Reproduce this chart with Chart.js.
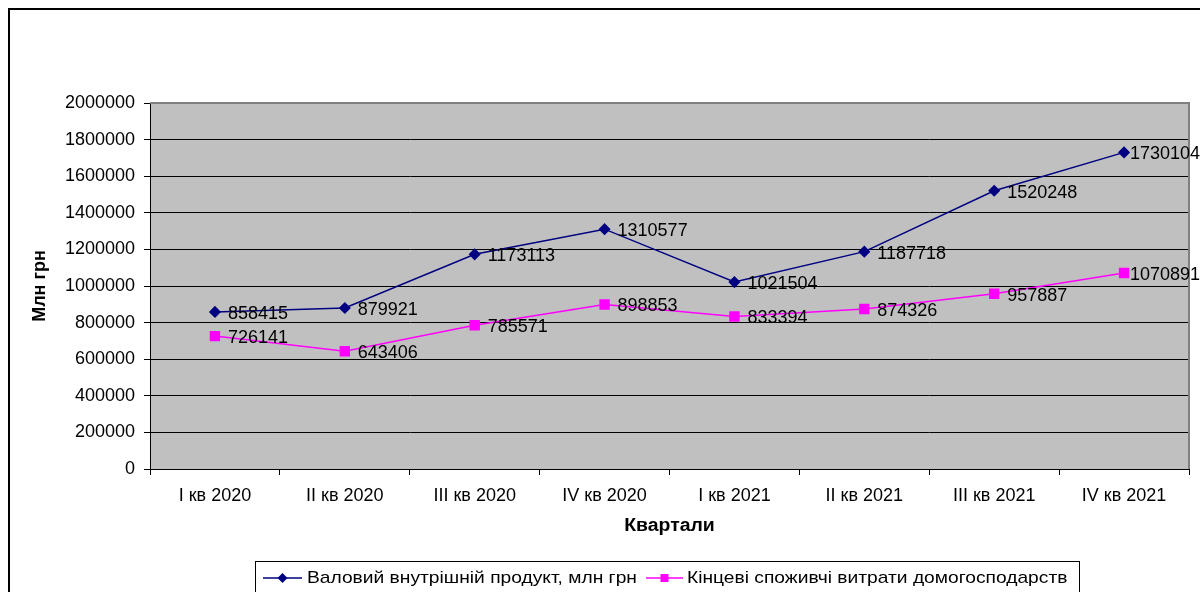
<!DOCTYPE html>
<html>
<head>
<meta charset="utf-8">
<script src="https://cdn.jsdelivr.net/npm/chart.js@4.4.0/dist/chart.umd.min.js"></script>
<style>
  html, body { margin: 0; padding: 0; background: #fff; }
  #wrap { width: 1200px; height: 592px; position: relative; }
</style>
</head>
<body>
<div id="wrap"><canvas id="chart" width="1200" height="592"></canvas></div>
<script>
// quarters and values, mln UAH
const quarters = ['I кв 2020', 'II кв 2020', 'III кв 2020', 'IV кв 2020', 'I кв 2021', 'II кв 2021', 'III кв 2021', 'IV кв 2021'];
const gdpValues = [858415, 879921, 1173113, 1310577, 1021504, 1187718, 1520248, 1730104];
const consumptionValues = [726141, 643406, 785571, 898853, 833394, 874326, 957887, 1070891];
const seriesNames = ['Валовий внутрішній продукт, млн грн', 'Кінцеві споживчі витрати домогосподарств'];
const yMax = 2000000;
const yStep = 200000;

const FONT = "'Liberation Sans', Arial, sans-serif";

// gray plot background + outer frame
const backgroundPlugin = {
  id: 'background',
  beforeDraw(chart) {
    const { ctx, chartArea } = chart;
    ctx.save();
    ctx.fillStyle = '#fff';
    ctx.fillRect(0, 0, chart.width, chart.height);
    ctx.fillStyle = '#c0c0c0';
    ctx.fillRect(chartArea.left, chartArea.top, chartArea.right - chartArea.left, chartArea.bottom - chartArea.top);
    ctx.strokeStyle = '#000';
    ctx.lineWidth = 2;
    ctx.strokeRect(9, 9, chart.width + 20, chart.height + 20);
    ctx.restore();
  },
  beforeDatasetsDraw(chart) {
    const { ctx, chartArea } = chart;
    ctx.save();
    ctx.strokeStyle = '#808080';
    ctx.lineWidth = 2;
    ctx.beginPath();
    ctx.moveTo(chartArea.left, chartArea.top);
    ctx.lineTo(chartArea.right, chartArea.top);
    ctx.lineTo(chartArea.right, chartArea.bottom);
    ctx.stroke();
    ctx.restore();
  }
};

// value labels to the right of each point, kept inside the canvas
const valueLabelsPlugin = {
  id: 'valueLabels',
  afterDatasetsDraw(chart) {
    const { ctx } = chart;
    ctx.save();
    ctx.font = '18px ' + FONT;
    ctx.fillStyle = '#000';
    ctx.textBaseline = 'middle';
    ctx.textAlign = 'left';
    chart.data.datasets.forEach((ds, i) => {
      const meta = chart.getDatasetMeta(i);
      meta.data.forEach((pt, j) => {
        const txt = String(ds.data[j]);
        const w = ctx.measureText(txt).width;
        const x = Math.min(pt.x + 13, chart.width - w);
        ctx.fillText(txt, x, pt.y + 2);
      });
    });
    ctx.restore();
  }
};

// axis titles and bottom legend
const titlesPlugin = {
  id: 'titles',
  afterDraw(chart) {
    const { ctx, chartArea } = chart;
    ctx.save();
    ctx.fillStyle = '#000';
    ctx.font = 'bold 18px ' + FONT;
    ctx.textAlign = 'center';
    ctx.textBaseline = 'middle';
    ctx.save();
    ctx.translate((chartArea.left + chartArea.right) / 2, 526);
    ctx.scale(1.08, 1);
    ctx.fillText('Квартали', 0, 0);
    ctx.restore();
    ctx.translate(40, (chartArea.top + chartArea.bottom) / 2);
    ctx.rotate(-Math.PI / 2);
    ctx.fillText('Млн грн', 0, 0);
    ctx.restore();

    // legend
    ctx.save();
    ctx.strokeStyle = '#000';
    ctx.lineWidth = 1;
    ctx.strokeRect(255.5, 561.5, 824, 40);
    ctx.font = '17px ' + FONT;
    ctx.textBaseline = 'middle';
    const ly = 578;
    const items = [
      { x0: 263, x1: 302, tx: 307 },
      { x0: 646, x1: 683, tx: 687 }
    ];
    chart.data.datasets.forEach((ds, i) => {
      const it = items[i];
      ctx.strokeStyle = ds.borderColor;
      ctx.lineWidth = 1.5;
      ctx.beginPath();
      ctx.moveTo(it.x0, ly);
      ctx.lineTo(it.x1, ly);
      ctx.stroke();
      const cx = (it.x0 + it.x1) / 2;
      ctx.fillStyle = ds.pointBackgroundColor;
      ctx.beginPath();
      if (ds.pointStyle === 'rectRot') {
        ctx.moveTo(cx, ly - 5);
        ctx.lineTo(cx + 5, ly);
        ctx.lineTo(cx, ly + 5);
        ctx.lineTo(cx - 5, ly);
        ctx.closePath();
      } else {
        ctx.rect(cx - 4, ly - 4, 8, 8);
      }
      ctx.fill();
      ctx.fillStyle = '#000';
      ctx.save();
      ctx.translate(it.tx, ly);
      ctx.scale(1.13, 1);
      ctx.fillText(ds.label, 0, 0);
      ctx.restore();
    });
    ctx.restore();
  }
};

new Chart(document.getElementById('chart').getContext('2d'), {
  type: 'line',
  data: {
    labels: quarters,
    datasets: [{
      label: seriesNames[0],
      data: gdpValues,
      borderColor: '#000080',
      backgroundColor: '#000080',
      pointBackgroundColor: '#000080',
      pointBorderColor: '#000080',
      pointStyle: 'rectRot',
      pointRadius: 5,
      borderWidth: 1.5,
      tension: 0
    }, {
      label: seriesNames[1],
      data: consumptionValues,
      borderColor: '#ff00ff',
      backgroundColor: '#ff00ff',
      pointBackgroundColor: '#ff00ff',
      pointBorderColor: '#ff00ff',
      pointStyle: 'rect',
      pointRadius: 6.3,
      borderWidth: 1.5,
      tension: 0
    }]
  },
  options: {
    responsive: false,
    animation: false,
    devicePixelRatio: 1,
    layout: { padding: { top: 103, right: 11, left: 0, bottom: 0 } },
    plugins: {
      legend: { display: false },
      tooltip: { enabled: false }
    },
    scales: {
      x: {
        offset: true,
        grid: { offset: true, drawOnChartArea: false, drawTicks: true, tickLength: 6, color: '#000', lineWidth: 1 },
        border: { color: '#000', width: 1 },
        ticks: { color: '#000', font: { family: FONT, size: 18 }, padding: 10, maxRotation: 0 },
        afterFit(scale) { scale.height = 123; }
      },
      y: {
        min: 0,
        max: yMax,
        ticks: { stepSize: yStep, color: '#000', font: { family: FONT, size: 18 }, padding: 9,
          callback: v => String(v) },
        grid: { color: '#000', lineWidth: 1, tickLength: 6, drawTicks: true },
        border: { color: '#000', width: 1 },
        afterFit(scale) { scale.width = 150; }
      }
    }
  },
  plugins: [backgroundPlugin, valueLabelsPlugin, titlesPlugin]
});
</script>
</body>
</html>
